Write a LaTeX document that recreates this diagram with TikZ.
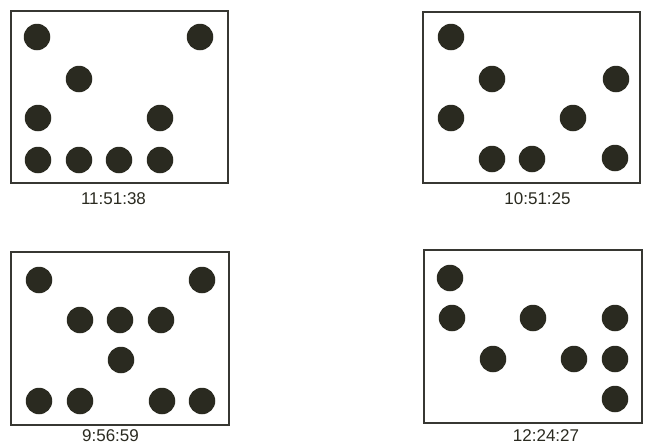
\documentclass[tikz,border=0pt]{standalone}
\usepackage{fontspec}
\setmainfont{Liberation Sans}
\definecolor{ink}{RGB}{42,42,32}
\definecolor{frame}{RGB}{55,55,50}
\begin{document}
\begin{tikzpicture}[x=1pt,y=-1pt,
  panel/.style={draw=frame,line width=2pt,fill=white},
  dot/.style={circle,fill=ink,draw=none,minimum size=26.5pt,inner sep=0pt},
  stamp/.style={anchor=base,inner sep=0pt,font=\fontsize{17}{17}\selectfont,text=ink}]
\useasboundingbox (0,0) rectangle (650,445);
% panel boxes
\draw[panel] (11,11) rectangle (228,183);
\draw[panel] (423,12) rectangle (640,183);
\draw[panel] (11,252) rectangle (229,425);
\draw[panel] (424,250) rectangle (642,423);
% panel 1
\node[dot] (a1) at (37,37) {};
\node[dot] (a2) at (200,37) {};
\node[dot] (a3) at (79,79) {};
\node[dot] (a4) at (38,118) {};
\node[dot] (a5) at (160,118) {};
\node[dot] (a6) at (38,160) {};
\node[dot] (a7) at (79,160) {};
\node[dot] (a8) at (119,160) {};
\node[dot] (a9) at (160,160) {};
\node[stamp] (la) at (113.5,204) {11:51:38};
% panel 2
\node[dot] (b1) at (451,37) {};
\node[dot] (b2) at (492,79) {};
\node[dot] (b3) at (616,79) {};
\node[dot] (b4) at (451,118) {};
\node[dot] (b5) at (573,118) {};
\node[dot] (b6) at (492,159) {};
\node[dot] (b7) at (532,159) {};
\node[dot] (b8) at (615,158) {};
\node[stamp] (lb) at (537.5,204) {10:51:25};
% panel 3
\node[dot] (c1) at (39,280) {};
\node[dot] (c2) at (202,280) {};
\node[dot] (c3) at (80,320) {};
\node[dot] (c4) at (120,320) {};
\node[dot] (c5) at (161,320) {};
\node[dot] (c6) at (121,360) {};
\node[dot] (c7) at (39,401) {};
\node[dot] (c8) at (80,401) {};
\node[dot] (c9) at (162,401) {};
\node[dot] (c10) at (202,401) {};
\node[stamp] (lc) at (110.5,441.5) {9:56:59};
% panel 4
\node[dot] (d1) at (450,278) {};
\node[dot] (d2) at (452,318) {};
\node[dot] (d3) at (533,318) {};
\node[dot] (d4) at (615,318) {};
\node[dot] (d5) at (493,359) {};
\node[dot] (d6) at (574,359) {};
\node[dot] (d7) at (615,359) {};
\node[dot] (d8) at (615,399) {};
\node[stamp] (ld) at (546,441.5) {12:24:27};
\end{tikzpicture}
\end{document}
